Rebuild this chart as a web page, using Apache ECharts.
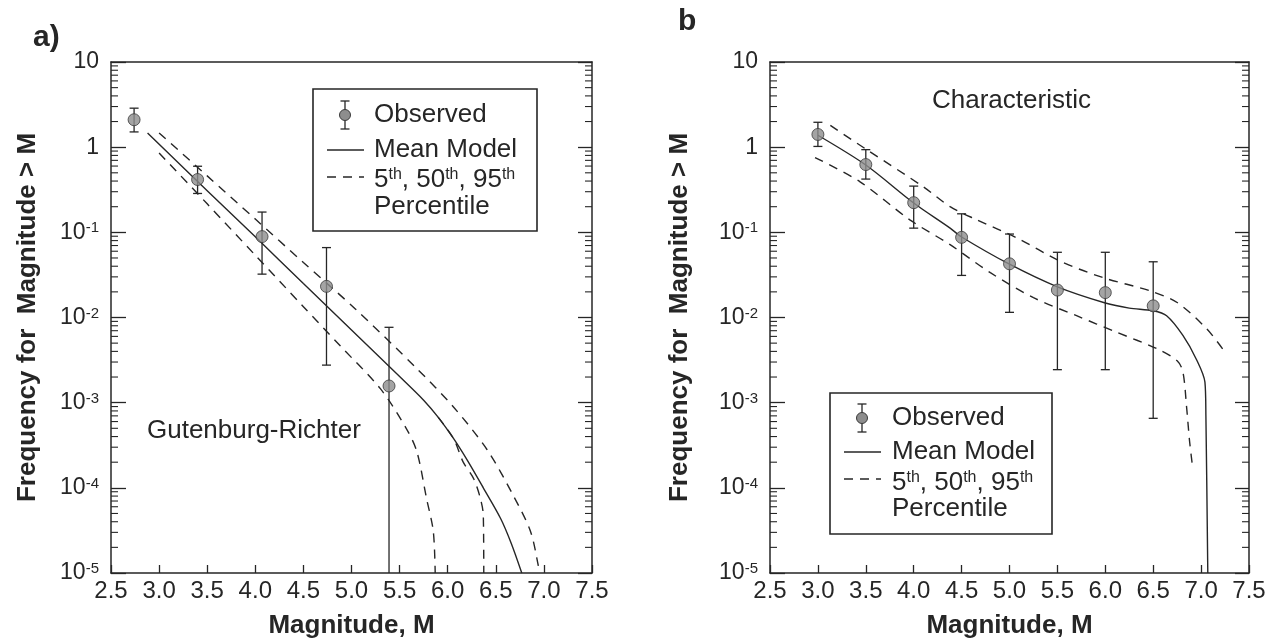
<!DOCTYPE html>
<html><head><meta charset="utf-8">
<script src="https://cdn.jsdelivr.net/npm/echarts@6/dist/echarts.min.js"></script>
<style>html,body{margin:0;padding:0;background:#fff}#c{width:1274px;height:644px}</style>
</head><body><div id="c"></div>
<script>
// ---------------- DATA ----------------
const freqMin = 1e-5, freqMax = 10;
const decadeExps = [-5, -4, -3, -2, -1, 0];
const minorMults = [2, 3, 4, 5, 6, 7, 8, 9];
const magMin = 2.5, magMax = 7.5, magStep = 0.5;

// Panel a) Gutenburg-Richter
const grObsM  = [2.74, 3.40, 4.07, 4.74, 5.39];
const grObsF  = [2.10, 0.417, 0.0891, 0.0232, 0.00157];
const grObsLo = [1.51, 0.286, 0.0323, 0.00276, 0.00001];
const grObsHi = [2.87, 0.597, 0.173, 0.0662, 0.00767];

const grMeanM = [2.88, 3.5, 4.0, 4.5, 5.0, 5.5, 5.75, 5.9, 6.06, 6.2, 6.37, 6.55, 6.66, 6.77];
const grMeanF = [1.47, 0.308, 0.0885, 0.0251, 0.00714, 0.00203, 0.00107, 6.76e-4, 3.8e-4, 2.14e-4, 1.0e-4, 4.37e-5, 2.24e-5, 1e-5];

const grP95M = [3.0, 3.5, 4.0, 4.5, 5.04, 5.68, 6.06, 6.41, 6.68, 6.86, 6.94, 6.95];
const grP95F = [1.47, 0.46, 0.143, 0.0442, 0.0126, 0.00251, 8.9e-4, 2.8e-4, 8.2e-5, 3.1e-5, 1.25e-5, 1e-5];

const grP50M = [5.9, 6.06, 6.16, 6.27, 6.34, 6.37, 6.375];
const grP50F = [6.76e-4, 3.8e-4, 2.02e-4, 1.28e-4, 7.5e-5, 4.8e-5, 1e-5];

const grP05M = [3.0, 3.5, 4.0, 4.5, 4.88, 5.3, 5.57, 5.68, 5.78, 5.85, 5.87];
const grP05F = [0.855, 0.216, 0.0538, 0.0134, 0.00468, 0.00146, 4.97e-4, 2.65e-4, 7.5e-5, 3.1e-5, 1e-5];

// Panel b) Characteristic
const chObsM  = [3.0, 3.5, 4.0, 4.5, 5.0, 5.5, 6.0, 6.5];
const chObsF  = [1.41, 0.625, 0.223, 0.0873, 0.0427, 0.0210, 0.0196, 0.0137];
const chObsLo = [1.02, 0.422, 0.112, 0.0312, 0.0115, 0.00244, 0.00244, 6.55e-4];
const chObsHi = [1.96, 0.935, 0.349, 0.165, 0.0955, 0.0583, 0.0583, 0.0451];

const chMeanM = [3.0, 3.5, 4.0, 4.38, 4.5, 5.0, 5.5, 6.0, 6.25, 6.5, 6.64, 6.81, 6.95, 7.04, 7.05, 7.07];
const chMeanF = [1.38, 0.617, 0.221, 0.112, 0.0881, 0.0422, 0.0229, 0.0148, 0.0129, 0.0120, 0.0105, 0.00617, 0.00324, 0.00174, 7.1e-4, 1e-5];

const chP95M = [3.13, 3.5, 4.1, 4.38, 4.66, 5.08, 5.53, 5.98, 6.47, 6.75, 7.06, 7.25];
const chP95F = [1.80, 0.95, 0.343, 0.200, 0.140, 0.0857, 0.0458, 0.0293, 0.0205, 0.0150, 0.00733, 0.00392];

const chP05M = [2.97, 3.44, 3.96, 4.38, 4.8, 5.25, 5.7, 6.12, 6.54, 6.75, 6.81, 6.85, 6.88, 6.91];
const chP05F = [0.755, 0.392, 0.140, 0.0716, 0.0336, 0.0171, 0.0105, 0.0067, 0.0043, 0.0031, 0.0023, 8.5e-4, 3.5e-4, 1.8e-4];

// texts
const xTitle = 'Magnitude, M';
const yTitle = 'Frequency for  Magnitude > M';
const panelLabels = ['a)', 'b'];
const modelNames = ['Gutenburg-Richter', 'Characteristic'];
const legendTexts = ['Observed', 'Mean Model', '5{s|th}, 50{s|th}, 95{s|th}', 'Percentile'];

// ---------------- CHART ----------------
const FONT = '"Liberation Sans", Arial, Helvetica, sans-serif';
const INK = '#262626';
const LINE_W = 1.4;
const DASH = [9, 7];

const zip = (a, b) => a.map((v, i) => [v, b[i]]);
const zip3 = (a, b, c) => a.map((v, i) => [v, b[i], c[i]]);
const minorTicks = [];
decadeExps.forEach(e => minorMults.forEach(m => minorTicks.push([magMin, m * Math.pow(10, e)])));

function yLabel(v) {
  const e = Math.round(Math.log10(v));
  if (e === 1) return '10';
  if (e === 0) return '1';
  return '10{s|' + e + '}';
}

const grids = [
  { left: 111, top: 62, width: 481, height: 513 },
  { left: 770, top: 62, width: 479, height: 513 }
];

const xAxes = [], yAxes = [];
[0, 1].forEach(i => {
  xAxes.push({
    gridIndex: i, type: 'value', min: magMin, max: magMax, interval: magStep, position: 'bottom',
    axisLine: { lineStyle: { color: INK, width: 1.5 } },
    axisTick: { inside: true, length: 8, lineStyle: { color: INK, width: 1.3 } },
    axisLabel: { formatter: v => v.toFixed(1), fontSize: 24, color: INK, fontFamily: FONT, margin: 6 },
    splitLine: { show: false },
    name: xTitle, nameLocation: 'middle', nameGap: 40,
    nameTextStyle: { fontSize: 26, fontWeight: 'bold', color: INK, fontFamily: FONT }
  });
  xAxes.push({
    gridIndex: i, type: 'value', min: magMin, max: magMax, position: 'top',
    axisLine: { lineStyle: { color: INK, width: 1.5 } },
    axisTick: { show: false }, axisLabel: { show: false }, splitLine: { show: false }
  });
  yAxes.push({
    gridIndex: i, type: 'log', logBase: 10, min: freqMin, max: freqMax, splitNumber: 6, position: 'left',
    axisLine: { lineStyle: { color: INK, width: 1.5 } },
    axisTick: { inside: true, length: 15, lineStyle: { color: INK, width: 1.3 } },
    axisLabel: {
      formatter: yLabel, fontSize: 23, color: INK, fontFamily: FONT, margin: 12,
      rich: { s: { fontSize: 15, color: INK, fontFamily: FONT, verticalAlign: 'top' } }
    },
    splitLine: { show: false },
    name: yTitle, nameLocation: 'middle', nameRotate: 90, nameGap: i === 0 ? 70 : 77,
    nameTextStyle: { fontSize: 26, fontWeight: 'bold', color: INK, fontFamily: FONT }
  });
  yAxes.push({
    gridIndex: i, type: 'log', logBase: 10, min: freqMin, max: freqMax, splitNumber: 6, position: 'right',
    axisLine: { lineStyle: { color: INK, width: 1.5 } },
    axisTick: { inside: true, length: 14, lineStyle: { color: INK, width: 1.3 } },
    axisLabel: { show: false }, splitLine: { show: false }
  });
});

function lineSeries(i, m, f, dashed) {
  return {
    type: 'line', xAxisIndex: i * 2, yAxisIndex: i * 2, data: zip(m, f),
    showSymbol: false, symbol: 'none', smooth: 0.3, clip: true, z: 3,
    lineStyle: { color: INK, width: LINE_W, type: dashed ? DASH : 'solid' },
    silent: true
  };
}

function errSeries(i, m, lo, hi) {
  return {
    type: 'custom', xAxisIndex: i * 2, yAxisIndex: i * 2, data: zip3(m, lo, hi), z: 4, clip: true,
    encode: { x: 0, y: [1, 2] },
    renderItem: (params, api) => {
      const x = api.value(0), lo = api.value(1), hi = api.value(2);
      const a = api.coord([x, lo]), b = api.coord([x, hi]);
      const w = 4.5;
      const st = { stroke: INK, lineWidth: 1.3 };
      const ch = [
        { type: 'line', shape: { x1: a[0], y1: a[1], x2: b[0], y2: b[1] }, style: st },
        { type: 'line', shape: { x1: b[0] - w, y1: b[1], x2: b[0] + w, y2: b[1] }, style: st }
      ];
      if (lo > freqMin) ch.push({ type: 'line', shape: { x1: a[0] - w, y1: a[1], x2: a[0] + w, y2: a[1] }, style: st });
      return { type: 'group', children: ch };
    }
  };
}

function pointSeries(i, m, f) {
  return {
    type: 'scatter', xAxisIndex: i * 2, yAxisIndex: i * 2, data: zip(m, f), z: 5,
    symbol: 'circle', symbolSize: 12,
    itemStyle: { color: '#8d8d8d', borderColor: '#3a3a3a', borderWidth: 1 }
  };
}

function minorTickSeries(i) {
  return {
    type: 'custom', xAxisIndex: i * 2, yAxisIndex: i * 2, data: minorTicks, z: 2, clip: false, silent: true,
    encode: { x: 0, y: 1 },
    renderItem: (params, api) => {
      const p = api.coord([api.value(0), api.value(1)]);
      const cs = params.coordSys;
      const L = 7, st = { stroke: INK, lineWidth: 1.1 };
      return { type: 'group', children: [
        { type: 'line', shape: { x1: cs.x, y1: p[1], x2: cs.x + L, y2: p[1] }, style: st },
        { type: 'line', shape: { x1: cs.x + cs.width - L, y1: p[1], x2: cs.x + cs.width, y2: p[1] }, style: st }
      ]};
    }
  };
}

const series = [
  minorTickSeries(0), minorTickSeries(1),
  lineSeries(0, grMeanM, grMeanF, false),
  lineSeries(0, grP95M, grP95F, true),
  lineSeries(0, grP50M, grP50F, true),
  lineSeries(0, grP05M, grP05F, true),
  errSeries(0, grObsM, grObsLo, grObsHi),
  pointSeries(0, grObsM, grObsF),
  lineSeries(1, chMeanM, chMeanF, false),
  lineSeries(1, chP95M, chP95F, true),
  lineSeries(1, chP05M, chP05F, true),
  errSeries(1, chObsM, chObsLo, chObsHi),
  pointSeries(1, chObsM, chObsF)
];

function txt(x, y, text, size, bold, extra) {
  return {
    type: 'text', x: x, y: y, z: 10,
    style: Object.assign({
      text: text, fontSize: size, fontWeight: bold ? 'bold' : 'normal', fontFamily: FONT, fill: INK,
      align: 'left', verticalAlign: 'middle', textAlign: 'left', textVerticalAlign: 'middle'
    }, extra || {})
  };
}

function legend(bx, by, bw, bh, ix, tx, rows) {
  const st = { stroke: INK, lineWidth: 1.3 };
  return [
    { type: 'rect', z: 9, shape: { x: bx, y: by, width: bw, height: bh }, style: { fill: '#fff', stroke: INK, lineWidth: 1.6 } },
    { type: 'line', z: 10, shape: { x1: ix, y1: rows[0] - 14, x2: ix, y2: rows[0] + 14 }, style: st },
    { type: 'line', z: 10, shape: { x1: ix - 4.5, y1: rows[0] - 14, x2: ix + 4.5, y2: rows[0] - 14 }, style: st },
    { type: 'line', z: 10, shape: { x1: ix - 4.5, y1: rows[0] + 14, x2: ix + 4.5, y2: rows[0] + 14 }, style: st },
    { type: 'circle', z: 11, shape: { cx: ix, cy: rows[0], r: 5.5 }, style: { fill: '#8d8d8d', stroke: '#3a3a3a', lineWidth: 1 } },
    { type: 'line', z: 10, shape: { x1: ix - 18, y1: rows[1], x2: ix + 19, y2: rows[1] }, style: { stroke: INK, lineWidth: LINE_W } },
    { type: 'line', z: 10, shape: { x1: ix - 18, y1: rows[2], x2: ix + 19, y2: rows[2] }, style: { stroke: INK, lineWidth: LINE_W, lineDash: DASH } },
    txt(tx, rows[0], legendTexts[0], 26, false),
    txt(tx, rows[1], legendTexts[1], 26, false),
    txt(tx, rows[3], legendTexts[2], 26, false, {
      rich: { s: { fontSize: 16, fontFamily: FONT, fill: INK, verticalAlign: 'top' } }
    }),
    txt(tx, rows[4], legendTexts[3], 26, false)
  ];
}

const graphic = [].concat(
  legend(313, 89, 224, 142, 345, 374, [115, 150, 177, 180, 207]),
  legend(830, 393, 222, 141, 862, 892, [418, 452, 479, 483, 509]),
  [
    txt(147, 431, modelNames[0], 26, false),
    txt(932, 101, modelNames[1], 26, false),
    txt(33, 38, panelLabels[0], 30, true),
    txt(678, 22, panelLabels[1], 30, true)
  ]
);

const chart = echarts.init(document.getElementById('c'), null, { renderer: 'canvas' });
chart.setOption({
  animation: false,
  backgroundColor: '#ffffff',
  textStyle: { fontFamily: FONT },
  grid: grids,
  xAxis: xAxes,
  yAxis: yAxes,
  series: series,
  graphic: graphic
});
</script>
</body></html>
